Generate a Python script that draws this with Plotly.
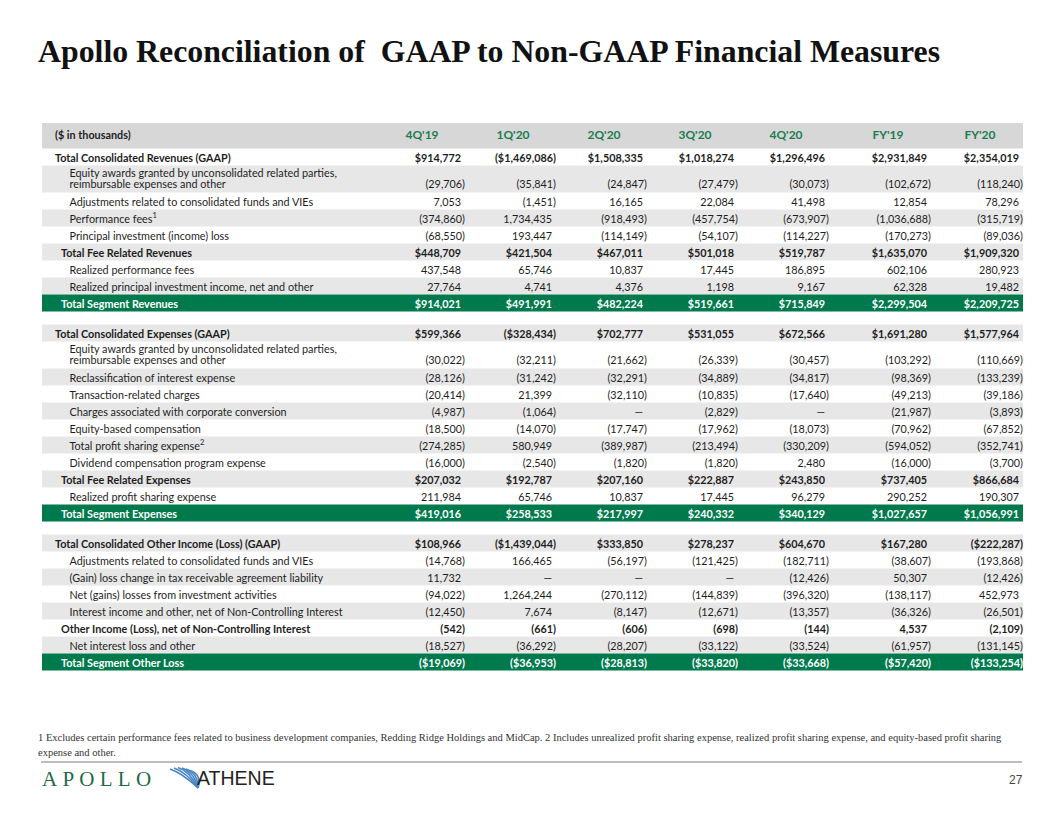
import plotly.graph_objects as go

# ---------------- data ----------------
columns = ["4Q'19", "1Q'20", "2Q'20", "3Q'20", "4Q'20", "FY'19", "FY'20"]
header_label = "($ in thousands)"

rev_labels = [
    "Total Consolidated Revenues (GAAP)",
    "Equity awards granted by unconsolidated related parties,\nreimbursable expenses and other",
    "Adjustments related to consolidated funds and VIEs",
    "Performance fees<sup>1</sup>",
    "Principal investment (income) loss",
    "Total Fee Related Revenues",
    "Realized performance fees",
    "Realized principal investment income, net and other",
    "Total Segment Revenues",
]
rev_values = [
    [914772, -1469086, 1508335, 1018274, 1296496, 2931849, 2354019],
    [-29706, -35841, -24847, -27479, -30073, -102672, -118240],
    [7053, -1451, 16165, 22084, 41498, 12854, 78296],
    [-374860, 1734435, -918493, -457754, -673907, -1036688, -315719],
    [-68550, 193447, -114149, -54107, -114227, -170273, -89036],
    [448709, 421504, 467011, 501018, 519787, 1635070, 1909320],
    [437548, 65746, 10837, 17445, 186895, 602106, 280923],
    [27764, 4741, 4376, 1198, 9167, 62328, 19482],
    [914021, 491991, 482224, 519661, 715849, 2299504, 2209725],
]

exp_labels = [
    "Total Consolidated Expenses (GAAP)",
    "Equity awards granted by unconsolidated related parties,\nreimbursable expenses and other",
    "Reclassification of interest expense",
    "Transaction-related charges",
    "Charges associated with corporate conversion",
    "Equity-based compensation",
    "Total profit sharing expense<sup>2</sup>",
    "Dividend compensation program expense",
    "Total Fee Related Expenses",
    "Realized profit sharing expense",
    "Total Segment Expenses",
]
exp_values = [
    [599366, -328434, 702777, 531055, 672566, 1691280, 1577964],
    [-30022, -32211, -21662, -26339, -30457, -103292, -110669],
    [-28126, -31242, -32291, -34889, -34817, -98369, -133239],
    [-20414, 21399, -32110, -10835, -17640, -49213, -39186],
    [-4987, -1064, 0, -2829, 0, -21987, -3893],
    [-18500, -14070, -17747, -17962, -18073, -70962, -67852],
    [-274285, 580949, -389987, -213494, -330209, -594052, -352741],
    [-16000, -2540, -1820, -1820, 2480, -16000, -3700],
    [207032, 192787, 207160, 222887, 243850, 737405, 866684],
    [211984, 65746, 10837, 17445, 96279, 290252, 190307],
    [419016, 258533, 217997, 240332, 340129, 1027657, 1056991],
]

oth_labels = [
    "Total Consolidated Other Income (Loss) (GAAP)",
    "Adjustments related to consolidated funds and VIEs",
    "(Gain) loss change in tax receivable agreement liability",
    "Net (gains) losses from investment activities",
    "Interest income and other, net of Non-Controlling Interest",
    "Other Income (Loss), net of Non-Controlling Interest",
    "Net interest loss and other",
    "Total Segment Other Loss",
]
oth_values = [
    [108966, -1439044, 333850, 278237, 604670, 167280, -222287],
    [-14768, 166465, -56197, -121425, -182711, -38607, -193868],
    [11732, 0, 0, 0, -12426, 50307, -12426],
    [-94022, 1264244, -270112, -144839, -396320, -138117, 452973],
    [-12450, 7674, -8147, -12671, -13357, -36326, -26501],
    [-542, -661, -606, -698, -144, 4537, -2109],
    [-18527, -36292, -28207, -33122, -33524, -61957, -131145],
    [-19069, -36953, -28813, -33820, -33668, -57420, -133254],
]

title_text = "Apollo Reconciliation of  GAAP to Non-GAAP Financial Measures"
footnote_lines = [
    "1 Excludes certain performance fees related to business development companies, Redding Ridge Holdings and MidCap. "
    "2 Includes unrealized profit sharing expense, realized profit sharing expense, and equity-based profit sharing",
    "expense and other.",
]
page_number = "27"

# ---------------- row styles (kept apart from the data) ----------------
rev_kinds = ["total", "sub", "sub", "sub", "sub", "subtotal", "sub", "sub", "segment"]
exp_kinds = ["total", "sub", "sub", "sub", "sub", "sub", "sub", "sub", "subtotal", "sub", "segment"]
oth_kinds = ["total", "sub", "sub", "sub", "sub", "subplain", "sub", "segment"]
section_first_shaded = [False, True, True]

# ---------------- layout constants ----------------
W, H = 1056, 816
OFF = 8  # page body margin compensation
TABLE_L, TABLE_R = 42, 1023
HEAD_TOP, HEAD_H = 123, 25.5
ROW_H, DOUBLE_H, GAP_H = 17, 27, 13
COL_RIGHT = [465, 556, 647, 738, 829, 931, 1023]
POS_SHIFT = 4
INDENT = {"total": 55, "sub": 69.5, "subtotal": 61, "subplain": 61, "segment": 61}
FS = 10.8
LABEL_FONT = "Lato, Open Sans, sans-serif"
NUM_FONT = "Lato, Open Sans, sans-serif"
GREEN = "#007a4d"
HEAD_GREEN = "#1b7d4f"
ROW_GRAY = "#e7e7e7"
HEAD_GRAY = "#d7d7d7"
TXT = "#1e1e1e"


def fmt(v, dollar):
    if v == 0:
        return "\u2014"
    s = f"{abs(v):,}"
    if dollar:
        s = "$" + s
    if v < 0:
        s = "(" + s + ")"
    return s


def anchor_y(baseline, fs=FS):
    # plotly places the baseline of "middle" text 0.25em below the point
    return baseline - 0.25 * fs


shapes = []
lab_x, lab_y, lab_t, lab_c = [], [], [], []
val_x, val_y, val_t, val_c = [], [], [], []

# header
shapes.append(dict(type="rect", xref="x", yref="y", x0=TABLE_L, x1=TABLE_R,
                   y0=HEAD_TOP, y1=HEAD_TOP + HEAD_H, fillcolor=HEAD_GRAY,
                   line_width=0, layer="below"))
head_base = HEAD_TOP + 16
lab_x.append(INDENT["total"]); lab_y.append(anchor_y(head_base))
lab_t.append("<b>" + header_label + "</b>"); lab_c.append(TXT)

y = HEAD_TOP + HEAD_H
sections = [(rev_labels, rev_values, rev_kinds),
            (exp_labels, exp_values, exp_kinds),
            (oth_labels, oth_values, oth_kinds)]
for si, (labels, values, kinds) in enumerate(sections):
    shaded = section_first_shaded[si]
    for lab, vals, kind in zip(labels, values, kinds):
        lines = lab.split("\n")
        h = DOUBLE_H if len(lines) > 1 else ROW_H
        if kind == "segment":
            fill = GREEN
        elif shaded:
            fill = ROW_GRAY
        else:
            fill = None
        if fill:
            shapes.append(dict(type="rect", xref="x", yref="y", x0=TABLE_L, x1=TABLE_R,
                               y0=y, y1=y + h, fillcolor=fill, line_width=0, layer="below"))
        if kind != "segment":
            shaded = not shaded
        bold = kind != "sub"
        color = "white" if kind == "segment" else TXT
        if len(lines) > 1:
            baselines = [y + 11.3, y + 22.3]
        else:
            baselines = [y + 13.2]
        for ln, bl in zip(lines, baselines):
            lab_x.append(INDENT[kind]); lab_y.append(anchor_y(bl))
            lab_t.append("<b>" + ln + "</b>" if bold else ln); lab_c.append(color)
        dollar = kind in ("total", "subtotal", "segment")
        for ci, v in enumerate(vals):
            s = fmt(v, dollar)
            xr = COL_RIGHT[ci] - (0 if v < 0 else POS_SHIFT)
            val_x.append(xr); val_y.append(anchor_y(baselines[-1]))
            val_t.append("<b>" + s + "</b>" if bold else s); val_c.append(color)
        y += h
    if si < len(sections) - 1:
        y += GAP_H

fig = go.Figure()
fig.add_trace(go.Scatter(x=lab_x, y=lab_y, text=lab_t, mode="text", textposition="middle right",
                         textfont=dict(family=LABEL_FONT, size=FS, color=lab_c),
                         hoverinfo="skip", showlegend=False, cliponaxis=False))
fig.add_trace(go.Scatter(x=val_x, y=val_y, text=val_t, mode="text", textposition="middle left",
                         textfont=dict(family=NUM_FONT, size=FS, color=val_c),
                         hoverinfo="skip", showlegend=False, cliponaxis=False))
fig.add_trace(go.Scatter(x=[r - 43 for r in COL_RIGHT], y=[anchor_y(head_base, 12)] * len(columns),
                         text=["<b>" + c + "</b>" for c in columns], mode="text",
                         textposition="middle center",
                         textfont=dict(family=NUM_FONT, size=12, color=HEAD_GREEN),
                         hoverinfo="skip", showlegend=False, cliponaxis=False))

annotations = [
    dict(x=36, y=51, xref="x", yref="y", xanchor="left", yanchor="middle", showarrow=False,
         text="<b>" + title_text + "</b>",
         font=dict(family="Liberation Serif, Times New Roman, serif", size=31.8, color="#111")),
]
for i, ln in enumerate(footnote_lines):
    annotations.append(dict(x=36, y=737 + 15 * i, xref="x", yref="y", xanchor="left", yanchor="middle",
                            showarrow=False, text=ln,
                            font=dict(family="Liberation Serif, Times New Roman, serif", size=10.5, color="#333")))
annotations.append(dict(x=40, y=779, xref="x", yref="y", xanchor="left", yanchor="middle", showarrow=False,
                        text="\u2005".join("APOLLO"),
                        font=dict(family="Liberation Serif, serif", size=21, color="#1c6b46")))
annotations.append(dict(x=195, y=778, xref="x", yref="y", xanchor="left", yanchor="middle", showarrow=False,
                        text="ATHENE",
                        font=dict(family="Liberation Sans, Arial, sans-serif", size=19.5, color="#222")))
annotations.append(dict(x=1025, y=780, xref="x", yref="y", xanchor="right", yanchor="middle", showarrow=False,
                        text=page_number,
                        font=dict(family="Liberation Sans, Arial, sans-serif", size=12, color="#444")))

# separator line
shapes.append(dict(type="line", xref="x", yref="y", x0=41, x1=1022, y0=762, y1=762,
                   line=dict(color="#bdbdbd", width=2)))
# Athene fan mark
fan_tops = [(170, 769), (174, 768), (178, 767.5), (182, 768), (186, 769), (190, 770.5)]
for (fx, fy) in fan_tops:
    shapes.append(dict(type="path", xref="x", yref="y",
                       path=f"M {fx},{fy} Q {fx + 12},{fy + 4} 198,788",
                       line=dict(color="#4a86c5", width=1.6)))

fig.update_layout(
    width=W, height=H, margin=dict(l=0, r=0, t=0, b=0),
    paper_bgcolor="white", plot_bgcolor="white",
    xaxis=dict(range=[OFF, W + OFF], visible=False, fixedrange=True),
    yaxis=dict(range=[H + OFF, OFF], visible=False, fixedrange=True),
    shapes=shapes, annotations=annotations,
)
fig.write_html("out.html")
